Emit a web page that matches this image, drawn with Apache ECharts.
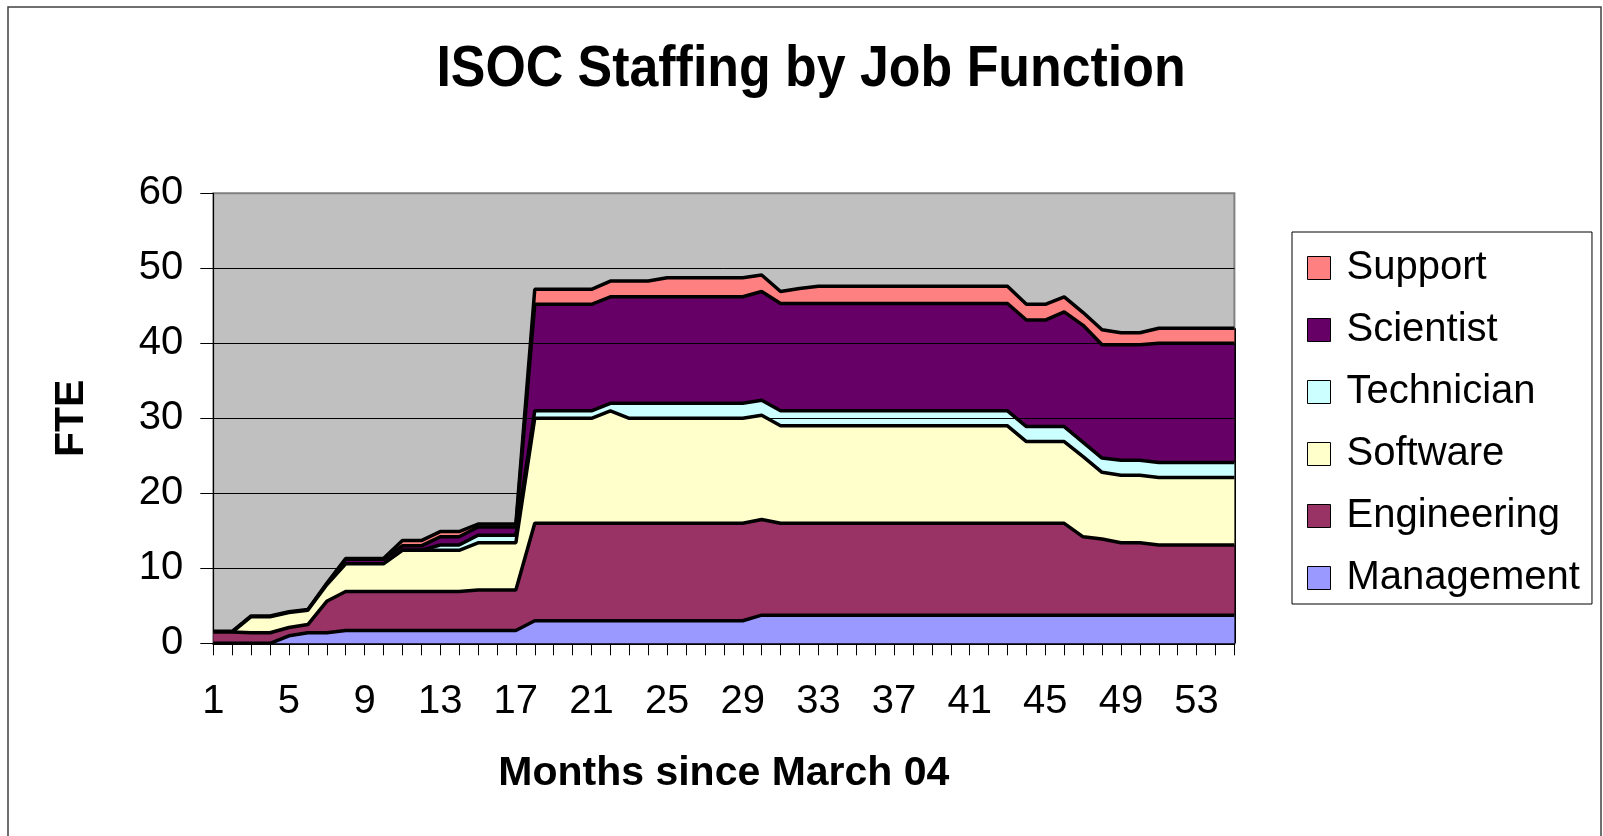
<!DOCTYPE html>
<html><head><meta charset="utf-8">
<script src="https://cdn.jsdelivr.net/npm/echarts@6/dist/echarts.min.js"></script>
<style>html,body{margin:0;padding:0;background:#fff}#c{width:1603px;height:836px}</style>
</head><body><div id="c"></div>
<script>
// ---- data ----
const months = ['1','2','3','4','5','6','7','8','9','10','11','12','13','14','15','16','17','18','19','20',
  '21','22','23','24','25','26','27','28','29','30','31','32','33','34','35','36','37','38','39','40',
  '41','42','43','44','45','46','47','48','49','50','51','52','53','54','55'];

const management = [0,0,0,0,1.0,1.4,1.4,
  1.7,1.7,1.7,1.7,1.7,1.7,1.7,1.7,1.7,1.7,
  3,3,3,3,3,3,3,3,3,3,3,3,
  3.75,3.75,3.75,3.75,3.75,3.75,3.75,3.75,3.75,3.75,3.75,3.75,3.75,3.75,3.75,3.75,3.75,3.75,3.75,3.75,3.75,3.75,3.75,3.75,3.75,3.75];

const engineering = [1.5,1.5,1.4,1.4,1.1,1.1,4.2,
  5.2,5.2,5.2,5.2,5.2,5.2,5.2,5.4,5.4,5.4,
  13,13,13,13,13,13,13,13,13,13,13,13,
  12.75,
  12.25,12.25,12.25,12.25,12.25,12.25,12.25,12.25,12.25,12.25,12.25,12.25,12.25,12.25,12.25,12.25,
  10.45,10.15,9.65,9.65,9.35,9.35,9.35,9.35,9.35];

const software = [0,0,2.15,2.15,2.0,1.9,2.2,
  3.7,3.7,3.7,5.5,5.5,5.5,5.5,6.3,6.3,6.3,
  14,14,14,14,15,14,14,14,14,14,14,14,
  13.9,
  13,13,13,13,13,13,13,13,13,13,13,13,13,
  10.9,10.9,10.9,10.7,8.9,9.0,9.0,9.0,9.0,9.0,9.0,9.0];

const technician = [0,0,0,0,0,0,0,0,0,0,0,0,0.7,0.7,1.0,1.0,1.0,
  1,1,1,1,1,
  2,2,2,2,2,2,2,2,2,2,2,2,2,2,2,2,2,2,2,2,2,2,2,2,
  1.9,1.9,2,2,2,2,2,2,2];

const scientist = [0,0,0,0,0,0,0.1,
  0.6,0.6,0.6,0.6,0.6,1.1,1.1,1.1,1.1,1.1,
  14.2,14.2,14.2,14.2,14.2,14.2,14.2,14.2,14.2,14.2,14.2,14.2,
  14.5,
  14.3,14.3,14.3,14.3,14.3,14.3,14.3,14.3,14.3,14.3,14.3,14.3,14.3,
  14.2,14.2,15.3,15.6,15.1,15.4,15.4,15.9,15.9,15.9,15.9,15.9];

const support = [0.1,0.1,0.1,0.1,0.1,0.1,0.1,
  0.1,0.1,0.1,0.7,0.7,0.7,0.7,0.4,0.4,0.4,
  2,2,2,2,2.1,2.1,2.1,2.55,2.55,2.55,2.55,2.55,
  2.2,1.6,2.0,
  2.3,2.3,2.3,2.3,2.3,2.3,2.3,2.3,2.3,2.3,2.3,
  2.1,2.1,2.0,1.7,2.0,1.6,1.6,2,2,2,2,2];

const seriesNames = ['Management','Engineering','Software','Technician','Scientist','Support'];
const legendOrder = ['Support','Scientist','Technician','Software','Engineering','Management'];
const colors = ['#9999FF','#993366','#FFFFCC','#CCFFFF','#660066','#FF8080'];
const yMin = 0, yMax = 60, yStep = 10;

const titleText = 'ISOC Staffing by Job Function';
const xTitle = 'Months since March 04';
const yTitle = 'FTE';

// ---- chart ----
const F = 'Liberation Sans, Arial, sans-serif';
const layers = [management, engineering, software, technician, scientist, support];
const lastCat = months[months.length - 1];
const lastTotal = layers.reduce((s, a) => s + a[a.length - 1], 0);

const series = layers.map((d, i) => ({
  name: seriesNames[i],
  type: 'line',
  stack: 'total',
  data: d,
  symbol: 'none',
  z: 12 - i,
  itemStyle: { color: colors[i] },
  lineStyle: { color: '#000', width: 3.5 },
  areaStyle: { color: colors[i], opacity: 1 },
  emphasis: { disabled: true },
  silent: true
}));
series[0].markLine = {
  silent: true, symbol: 'none', label: { show: false },
  lineStyle: { color: '#000', width: 3, type: 'solid' },
  data: [[{ coord: [lastCat, 0] }, { coord: [lastCat, lastTotal] }]]
};

const chart = echarts.init(document.getElementById('c'), null, { renderer: 'canvas' });
chart.setOption({
  animation: false,
  backgroundColor: '#fff',
  graphic: [
    { type: 'rect', silent: true, z: 0,
      shape: { x: 8, y: 7, width: 1593, height: 840 },
      style: { fill: 'none', stroke: '#404040', lineWidth: 1.5 } },
    { type: 'text', silent: true, x: 811, y: 70, scaleX: 0.91, z: 20,
      style: { text: titleText, font: 'bold 57px Liberation Sans', fill: '#000', align: 'center', verticalAlign: 'middle' } }
  ],
  grid: {
    left: 213.3, top: 193.3, right: 368.6, bottom: 192.7,
    show: true, backgroundColor: '#C0C0C0', borderColor: '#808080', borderWidth: 2
  },
  legend: {
    orient: 'vertical', left: 1292, top: 232,
    data: legendOrder, icon: 'rect', itemWidth: 23, itemHeight: 23, itemGap: 22,
    padding: [16, 12, 6, 15],
    borderColor: '#000', borderWidth: 1, backgroundColor: '#fff',
    itemStyle: { borderColor: '#000', borderWidth: 1 },
    textStyle: { fontSize: 40, color: '#000', fontFamily: F, lineHeight: 40, padding: [0, 0, 0, 11] },
    selectedMode: false
  },
  xAxis: {
    type: 'category', data: months, boundaryGap: false, z: 10,
    axisLine: { lineStyle: { color: '#000', width: 2 } },
    axisTick: { show: true, interval: 0, length: 12, lineStyle: { color: '#000', width: 1 } },
    axisLabel: { interval: 3, margin: 39, fontSize: 40, color: '#000', fontFamily: F },
    splitLine: { show: false },
    name: xTitle, nameLocation: 'middle', nameGap: 110,
    nameTextStyle: { fontSize: 41, fontWeight: 'bold', color: '#000', fontFamily: F }
  },
  yAxis: {
    type: 'value', min: yMin, max: yMax, interval: yStep, z: 10,
    axisLine: { show: true, lineStyle: { color: '#000', width: 1 } },
    axisTick: { show: true, length: 13, lineStyle: { color: '#000', width: 1 } },
    axisLabel: { margin: 30, fontSize: 40, color: '#000', fontFamily: F },
    splitLine: { show: true, showMinLine: false, showMaxLine: false, lineStyle: { color: '#000', width: 1 } },
    name: yTitle, nameLocation: 'middle', nameRotate: 90, nameGap: 121,
    nameTextStyle: { fontSize: 41, fontWeight: 'bold', color: '#000', fontFamily: F }
  },
  series: series
});
</script>
</body></html>
